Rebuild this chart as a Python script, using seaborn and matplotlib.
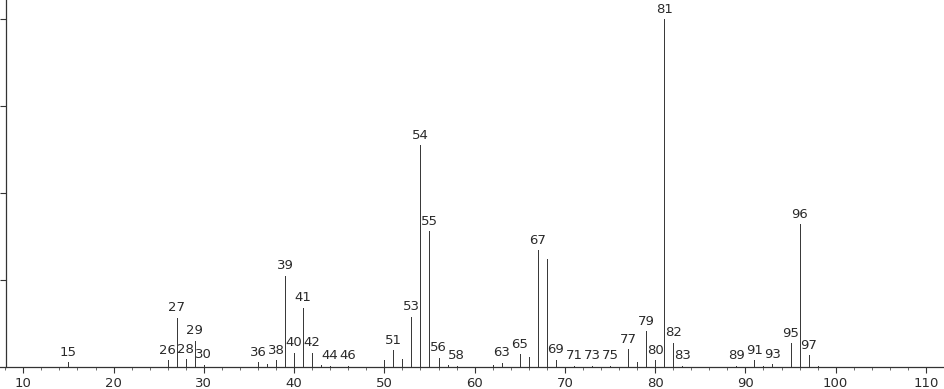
import matplotlib
matplotlib.use("Agg")
import matplotlib.pyplot as plt
import seaborn as sns
import pandas as pd
from matplotlib.ticker import MultipleLocator

mz = [15, 26, 27, 28, 29, 30, 36, 37, 38, 39, 40, 41, 42, 43, 44, 46,
      50, 51, 52, 53, 54, 55, 56, 57, 58, 62, 63, 65, 66, 67, 68, 69,
      71, 73, 75, 77, 78, 79, 80, 81, 82, 83, 89, 91, 92, 93, 95, 96, 97, 98]
intensity = [1.4, 1.9, 14.2, 2.2, 7.5, 0.6, 1.4, 0.8, 2.0, 26.2, 4.1, 17.0, 4.1, 0.7, 0.4, 0.3,
             1.9, 4.8, 2.2, 14.4, 63.7, 39.0, 2.6, 0.5, 0.3, 0.7, 1.2, 3.6, 2.8, 33.5, 31.0, 2.1,
             0.3, 0.3, 0.3, 5.1, 1.4, 10.3, 1.9, 100.0, 7.0, 0.4, 0.3, 1.9, 0.3, 0.8, 6.8, 41.0, 3.4, 0.4]
labeled = [15, 26, 27, 28, 29, 30, 36, 38, 39, 40, 41, 42, 44, 46, 51, 53, 54, 55, 56, 58,
           63, 65, 67, 69, 71, 73, 75, 77, 79, 80, 81, 82, 83, 89, 91, 93, 95, 96, 97]
xticks = [10, 20, 30, 40, 50, 60, 70, 80, 90, 100, 110]
yticks = [25, 50, 75, 100]

df = pd.DataFrame({"mz": mz, "intensity": intensity})

sns.set_style("ticks")
plt.rcParams["font.family"] = ["DejaVu Sans"]

fig = plt.figure(figsize=(9.44, 3.89), dpi=100)
ax = fig.add_axes([0.0, 22 / 389, 1.0, 367 / 389])

line_col = "#3a3a3a"
sns.barplot(data=df, x="mz", y="intensity", native_scale=True, width=0.001,
            color=line_col, edgecolor=line_col, linewidth=0.72, errorbar=None,
            antialiased=False, ax=ax)

ax.set_xlim(7.42, 112.0)
ax.set_ylim(0, 105.5)

for m, v in zip(mz, intensity):
    if m in labeled:
        ax.annotate(str(m), xy=(m, v), xytext=(0, 2.5), textcoords="offset points",
                    ha="center", va="bottom", fontsize=9.5, color="#2a2a2a")

ax.spines["left"].set_position(("data", 8.1))
ax.spines["top"].set_visible(False)
ax.spines["right"].set_visible(False)
for s in ("left", "bottom"):
    ax.spines[s].set_color("#333333")
    ax.spines[s].set_linewidth(0.9)

ax.set_xticks(xticks)
ax.set_xticklabels([str(t) for t in xticks])
ax.xaxis.set_minor_locator(MultipleLocator(2))
ax.set_yticks(yticks)
ax.set_yticklabels([])
ax.tick_params(axis="x", which="major", length=4, width=0.8, color="#333333",
               labelsize=9.5, labelcolor="#2a2a2a", pad=3)
ax.tick_params(axis="x", which="minor", length=2.5, width=0.6, color="#555555")
ax.tick_params(axis="y", which="major", length=4, width=0.8, color="#333333")
ax.set_xlabel("")
ax.set_ylabel("")

fig.savefig("out.png", dpi=100)
